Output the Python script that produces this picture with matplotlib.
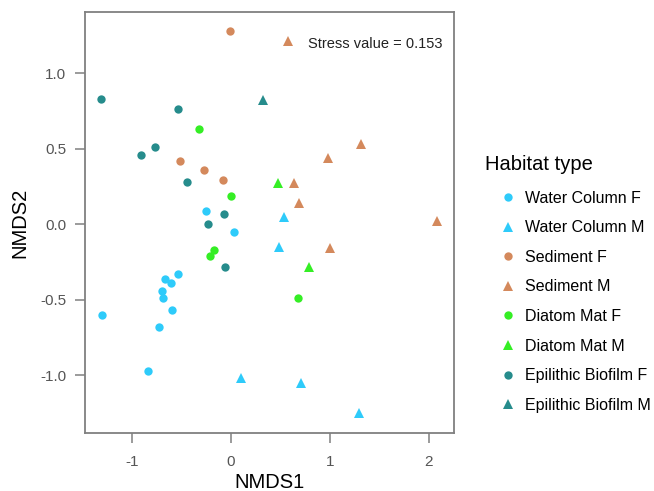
import matplotlib
matplotlib.use("Agg")
import matplotlib.pyplot as plt
import numpy as np

plt.rcParams['font.family'] = ['Liberation Sans', 'DejaVu Sans']

# NMDS scores, one pair of arrays per group
wc_f_x = [-0.25, 0.03, -0.67, -0.54, -0.61, -0.70, -0.69, -0.60, -1.30, -0.73, -0.84]
wc_f_y = [0.09, -0.05, -0.36, -0.33, -0.39, -0.44, -0.49, -0.57, -0.60, -0.68, -0.97]
wc_m_x = [0.54, 0.49, 0.10, 0.71, 1.29]
wc_m_y = [0.05, -0.15, -1.02, -1.05, -1.25]
sed_f_x = [-0.01, -0.52, -0.27, -0.08]
sed_f_y = [1.28, 0.42, 0.36, 0.29]
sed_m_x = [0.58, 1.31, 0.98, 0.64, 0.69, 2.08, 1.00]
sed_m_y = [1.21, 0.53, 0.44, 0.27, 0.14, 0.02, -0.16]
dm_f_x = [-0.32, 0.00, -0.17, -0.21, 0.68]
dm_f_y = [0.63, 0.19, -0.17, -0.21, -0.49]
dm_m_x = [0.48, 0.79]
dm_m_y = [0.27, -0.28]
epi_f_x = [-1.31, -0.54, -0.91, -0.77, -0.44, -0.07, -0.23, -0.06]
epi_f_y = [0.83, 0.76, 0.46, 0.51, 0.28, 0.07, 0.00, -0.28]
epi_m_x = [0.32]
epi_m_y = [0.82]

groups = [
    ("Water Column F", wc_f_x, wc_f_y, "#2ECBFA", "o"),
    ("Water Column M", wc_m_x, wc_m_y, "#2ECBFA", "^"),
    ("Sediment F", sed_f_x, sed_f_y, "#D4895C", "o"),
    ("Sediment M", sed_m_x, sed_m_y, "#D4895C", "^"),
    ("Diatom Mat F", dm_f_x, dm_f_y, "#35EE25", "o"),
    ("Diatom Mat M", dm_m_x, dm_m_y, "#35EE25", "^"),
    ("Epilithic Biofilm F", epi_f_x, epi_f_y, "#268C8C", "o"),
    ("Epilithic Biofilm M", epi_m_x, epi_m_y, "#268C8C", "^"),
]

fig = plt.figure(figsize=(6.54, 4.91), dpi=100)
ax = fig.add_axes([0.130, 0.118, 0.564, 0.858])

for label, xs, ys, col, mk in groups:
    ms = 6 if mk == "o" else 7.2
    ax.plot(xs, ys, linestyle="none", marker=mk, markersize=ms,
            color=col, markeredgewidth=0, label=label)

ax.set_xlim(-1.475, 2.253)
ax.set_ylim(-1.382, 1.406)
ax.set_xticks([-1, 0, 1, 2])
ax.set_xticklabels(["-1", "0", "1", "2"])
ax.set_yticks([-1.0, -0.5, 0.0, 0.5, 1.0])
ax.set_yticklabels(["-1.0", "-0.5", "0.0", "0.5", "1.0"])
for s in ax.spines.values():
    s.set_color("#808080")
    s.set_linewidth(1.3)
ax.tick_params(direction="out", length=7.5, width=1.1, color="#808080",
               labelcolor="#555555", labelsize=11)
ax.tick_params(axis="x", pad=8)
ax.tick_params(axis="y", pad=6)
ax.set_xlabel("NMDS1", fontsize=14.5, labelpad=3)
ax.set_ylabel("NMDS2", fontsize=14.5, labelpad=8)

ax.text(0.775, 1.194, "Stress value = 0.153", fontsize=10.5,
        ha="left", va="center", color="#222222")

fig.text(485 / 654, 1 - 165 / 491, "Habitat type", fontsize=14.5,
         ha="left", va="center")
leg = ax.legend(loc="upper left", bbox_to_anchor=(0.748, 0.634),
                bbox_transform=fig.transFigure, frameon=False,
                fontsize=11.5, labelspacing=0.91, handlelength=1.0,
                handletextpad=0.55, borderpad=0.2)

fig.savefig("out.png", dpi=100)
